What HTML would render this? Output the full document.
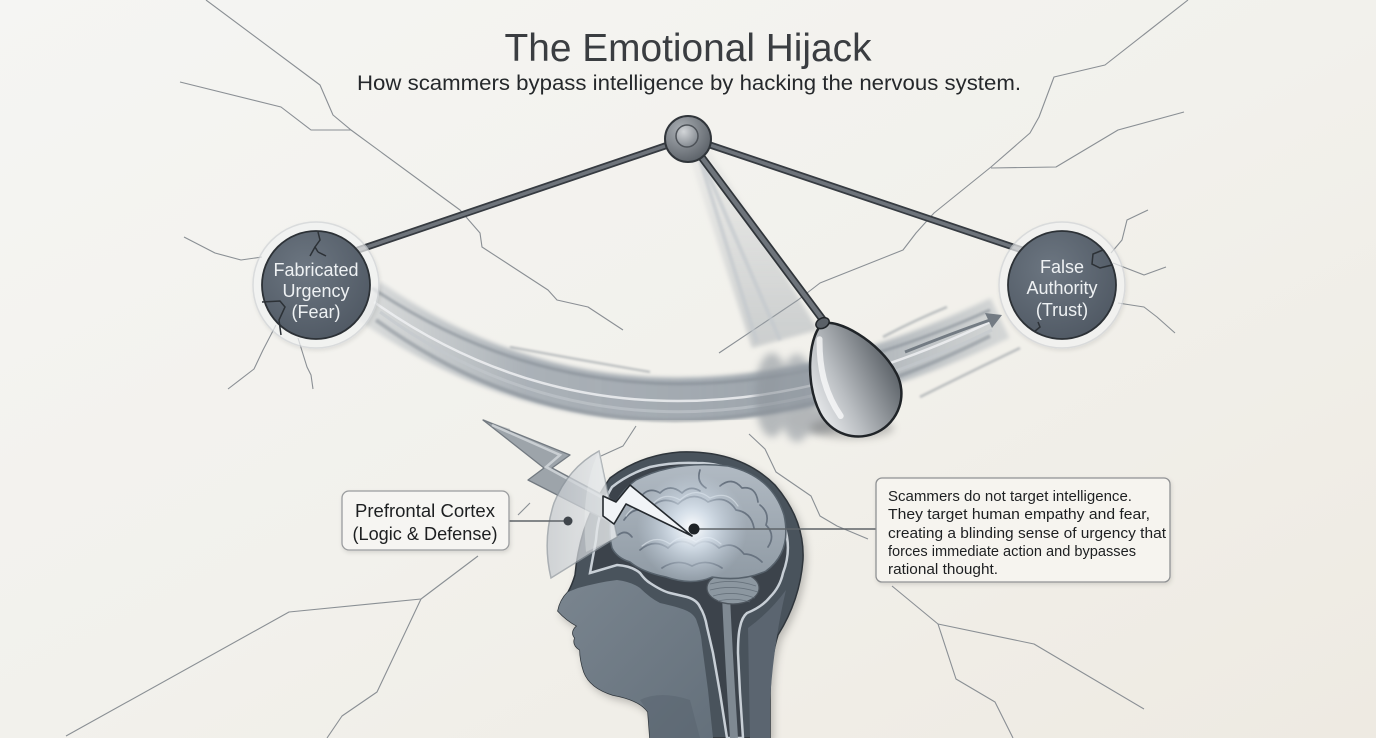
<!DOCTYPE html>
<html><head><meta charset="utf-8">
<style>
html,body{margin:0;padding:0;width:1376px;height:738px;overflow:hidden;background:#f2f1ed;}
svg{display:block}
text{font-family:"Liberation Sans",Arial,sans-serif;}
</style></head><body>
<svg width="1376" height="738" viewBox="0 0 1376 738" xmlns="http://www.w3.org/2000/svg">
<defs>
 <linearGradient id="bg" x1="0" y1="0" x2="1" y2="1">
  <stop offset="0" stop-color="#f5f5f3"/>
  <stop offset="0.5" stop-color="#f2f1ec"/>
  <stop offset="1" stop-color="#eeeae2"/>
 </linearGradient>
 <radialGradient id="node" cx="0.4" cy="0.35" r="0.75">
  <stop offset="0" stop-color="#6c7681"/>
  <stop offset="1" stop-color="#4e5762"/>
 </radialGradient>
 <radialGradient id="pivotG" cx="0.35" cy="0.3" r="0.8">
  <stop offset="0" stop-color="#a9aeb3"/>
  <stop offset="1" stop-color="#565c63"/>
 </radialGradient>
 <radialGradient id="pivotIn" cx="0.35" cy="0.3" r="0.8">
  <stop offset="0" stop-color="#d2d5d8"/>
  <stop offset="1" stop-color="#7d838a"/>
 </radialGradient>
 <linearGradient id="bobG" x1="0" y1="0" x2="1" y2="0">
  <stop offset="0" stop-color="#e4e6e8"/>
  <stop offset="0.35" stop-color="#b9bdc1"/>
  <stop offset="1" stop-color="#5f656b"/>
 </linearGradient>
 <linearGradient id="bandG" gradientUnits="userSpaceOnUse" x1="368" y1="0" x2="1000" y2="0">
  <stop offset="0" stop-color="#a6aeb5" stop-opacity="0.35"/>
  <stop offset="0.25" stop-color="#9ea6ae" stop-opacity="0.85"/>
  <stop offset="0.7" stop-color="#98a0a8" stop-opacity="0.95"/>
  <stop offset="1" stop-color="#a6aeb5" stop-opacity="0.4"/>
 </linearGradient>
 <linearGradient id="ghostG" gradientUnits="userSpaceOnUse" x1="0" y1="160" x2="0" y2="420">
  <stop offset="0" stop-color="#a3aab1" stop-opacity="0.1"/>
  <stop offset="0.6" stop-color="#9da4ab" stop-opacity="0.4"/>
  <stop offset="1" stop-color="#8f979e" stop-opacity="0.5"/>
 </linearGradient>
 <radialGradient id="glow" cx="0.5" cy="0.5" r="0.5">
  <stop offset="0" stop-color="#ffffff" stop-opacity="1"/>
  <stop offset="0.35" stop-color="#e3edf7" stop-opacity="0.75"/>
  <stop offset="1" stop-color="#c9d7e6" stop-opacity="0"/>
 </radialGradient>
 <linearGradient id="faceG" x1="0" y1="0" x2="1" y2="1">
  <stop offset="0" stop-color="#7a858f"/>
  <stop offset="1" stop-color="#64707b"/>
 </linearGradient>
 <linearGradient id="brainG" x1="0" y1="0" x2="0" y2="1">
  <stop offset="0" stop-color="#b1bac3"/>
  <stop offset="1" stop-color="#8f9aa4"/>
 </linearGradient>
 <linearGradient id="shieldG" x1="0" y1="0" x2="1" y2="0">
  <stop offset="0" stop-color="#c3c8cd"/>
  <stop offset="1" stop-color="#e6e9ec"/>
 </linearGradient>
 <filter id="blur1"><feGaussianBlur stdDeviation="1"/></filter>
 <filter id="blur2" x="-20%" y="-20%" width="140%" height="140%"><feGaussianBlur stdDeviation="2"/></filter>
 <filter id="blur4" x="-50%" y="-50%" width="200%" height="200%"><feGaussianBlur stdDeviation="4"/></filter>
 <filter id="shadow" x="-20%" y="-20%" width="150%" height="150%"><feDropShadow dx="3" dy="4" stdDeviation="4" flood-color="#000" flood-opacity="0.22"/></filter>
 <filter id="bshadow" x="-10%" y="-10%" width="130%" height="130%"><feDropShadow dx="1" dy="2" stdDeviation="2" flood-color="#000" flood-opacity="0.12"/></filter>
</defs>

<rect x="0" y="0" width="1376" height="738" fill="url(#bg)"/>

<!-- cracks -->
<g fill="none" stroke="#8a8f94" stroke-width="1.1" stroke-linejoin="round">
 <polyline points="206,0 320,85 333,115 351,130 460,210 480,233 482,247 548,290 557,300 588,307 623,330"/>
 <polyline points="180,82 281,107 311,130 351,130"/>
 <polyline points="184,237 215,253 241,260 262,257"/>
 <polyline points="276,325 263,350 254,369 228,389"/>
 <polyline points="298,338 307,367 311,375 313,389"/>
 <polyline points="1188,0 1105,65 1054,77 1039,117 1030,133 991,167 934,213 916,233 903,250 820,283 798,300 719,353"/>
 <polyline points="1184,112 1118,130 1056,167 991,168"/>
 <polyline points="1148,210 1127,220 1122,240 1111,253"/>
 <polyline points="1166,267 1144,275 1113,263"/>
 <polyline points="1175,333 1157,317 1144,307 1118,303"/>
 <polyline points="66,736 289,612 421,599 478,556"/>
 <polyline points="421,599 377,692 342,716 327,738"/>
 <polyline points="636,426 623,446 601,456"/>
 <polyline points="749,434 765,449 776,472 811,496 820,516 837,526 868,539"/>
 <polyline points="892,586 938,624 1034,644 1144,709"/>
 <polyline points="938,624 956,679 995,702 1013,738"/>
 <polyline points="518,515 530,503"/>
</g>

<!-- title -->
<text x="688" y="61" text-anchor="middle" font-size="39" fill="#3a3d41" textLength="367" lengthAdjust="spacingAndGlyphs">The Emotional Hijack</text>
<text x="689" y="90" text-anchor="middle" font-size="21" fill="#25282b" textLength="664" lengthAdjust="spacingAndGlyphs">How scammers bypass intelligence by hacking the nervous system.</text>

<!-- swoosh band -->
<g fill="none">
 <path d="M368 300 Q 640 490 1000 318" stroke="url(#bandG)" stroke-width="44" filter="url(#blur2)"/>
 <path d="M372 288 Q 640 468 990 310" stroke="#858d95" stroke-width="3" opacity="0.6" filter="url(#blur1)"/>
 <path d="M376 320 Q 640 512 990 336" stroke="#858d95" stroke-width="4" opacity="0.55" filter="url(#blur1)"/>
 <path d="M374 302 Q 640 490 992 321" stroke="#eef0f2" stroke-width="2.5" opacity="0.85"/>
 <path d="M380 312 Q 640 502 992 330" stroke="#c3c8cd" stroke-width="3" opacity="0.6"/>
 <path d="M510 347 Q 580 360 650 372" stroke="#7f878f" stroke-width="2" opacity="0.55" filter="url(#blur1)"/>
 <path d="M483 420 Q 495 425 510 430" stroke="#8a9299" stroke-width="2" opacity="0.5"/>
 <path d="M883 337 Q 915 320 947 307" stroke="#8a9299" stroke-width="2.5" opacity="0.55" filter="url(#blur1)"/>
 <path d="M920 397 Q 970 372 1020 348" stroke="#8a9299" stroke-width="2.5" opacity="0.55" filter="url(#blur1)"/>
 <path d="M905 352 Q 950 334 990 320" stroke="#737b83" stroke-width="3"/>
</g>
<polygon points="1002,315 985,313 992,328" fill="#737b83"/>

<!-- ghost pendulum trails -->
<polygon points="690,158 710,150 818,330 752,348" fill="url(#ghostG)" filter="url(#blur2)"/>
<g filter="url(#blur4)" opacity="0.6">
 <ellipse cx="772" cy="395" rx="17" ry="42" fill="#8e959c"/>
 <ellipse cx="797" cy="398" rx="18" ry="44" fill="#939aa1"/>
 <ellipse cx="815" cy="420" rx="30" ry="14" fill="#8a9198"/>
</g>
<g stroke="#c4c9ce" stroke-width="4" opacity="0.7" filter="url(#blur1)">
 <line x1="700" y1="160" x2="757" y2="342"/>
 <line x1="702" y1="160" x2="780" y2="340"/>
</g>

<!-- rods -->
<g stroke-linecap="round">
 <line x1="668" y1="145" x2="358" y2="250" stroke="#363b41" stroke-width="7"/>
 <line x1="668" y1="145" x2="358" y2="250" stroke="#6e747b" stroke-width="3.5"/>
 <line x1="710" y1="145" x2="1022" y2="250" stroke="#363b41" stroke-width="7"/>
 <line x1="710" y1="145" x2="1022" y2="250" stroke="#6e747b" stroke-width="3.5"/>
 <line x1="700" y1="155" x2="823" y2="320" stroke="#30353a" stroke-width="8"/>
 <line x1="700" y1="155" x2="823" y2="320" stroke="#6e747b" stroke-width="4.5"/>
</g>

<!-- pivot -->
<circle cx="688" cy="139" r="23" fill="url(#pivotG)" stroke="#30353a" stroke-width="2"/>
<circle cx="687" cy="136" r="11" fill="url(#pivotIn)" stroke="#4d5258" stroke-width="1.5"/>

<!-- bob -->
<ellipse cx="852" cy="428" rx="42" ry="11" fill="#666" opacity="0.35" filter="url(#blur4)"/>
<g transform="translate(823,324) rotate(-27)">
 <path d="M0,0 C 14,0 43,40 43,78 A 43 43 0 0 1 -43 78 C -43 40 -14 0 0 0 Z" fill="url(#bobG)" stroke="#202428" stroke-width="2.5"/>
 <path d="M-10,12 C -22,35 -30,60 -26,90" stroke="#ffffff" stroke-width="6" fill="none" opacity="0.7" stroke-linecap="round"/>
 <ellipse cx="0" cy="-1" rx="7" ry="5" fill="#5a6067" stroke="#202428" stroke-width="1.5"/>
</g>

<!-- left node -->
<circle cx="316" cy="285" r="63" fill="#f1f2f2" opacity="0.7" stroke="#cfd2d5" stroke-width="1.5" filter="url(#bshadow)"/>
<circle cx="316" cy="285" r="54" fill="url(#node)" stroke="#2c3136" stroke-width="1.8"/>
<g fill="none" stroke="#2c3136" stroke-width="1.5">
 <polyline points="318,232 320,240 315,247 318,252"/>
 <polyline points="315,247 310,256"/>
 <polyline points="318,252 326,256"/>
 <polyline points="262,302 280,301 285,307 279,320 281,335"/>
</g>
<g font-size="18" fill="#eef1f3" text-anchor="middle">
 <text x="316" y="276">Fabricated</text>
 <text x="316" y="297">Urgency</text>
 <text x="316" y="318">(Fear)</text>
</g>

<!-- right node -->
<circle cx="1062" cy="285" r="63" fill="#f1f2f2" opacity="0.7" stroke="#cfd2d5" stroke-width="1.5" filter="url(#bshadow)"/>
<circle cx="1062" cy="285" r="54" fill="url(#node)" stroke="#2c3136" stroke-width="1.8"/>
<g fill="none" stroke="#2c3136" stroke-width="1.5">
 <polyline points="1103,250 1093,254 1092,264 1100,268 1112,265"/>
 <polyline points="1034,332 1040,327 1038,322"/>
</g>
<g font-size="18" fill="#eef1f3" text-anchor="middle">
 <text x="1062" y="273">False</text>
 <text x="1062" y="294">Authority</text>
 <text x="1062" y="316">(Trust)</text>
</g>

<!-- head -->
<g filter="url(#shadow)">
 <path d="M 650 738 L 648 712 Q 640 700 613 695 Q 590 688 584 672 Q 580 660 580 650 Q 572 645 575 638 Q 570 632 577 626 Q 566 620 558 611 Q 560 600 568 592 Q 572 585 575 575 Q 580 520 610 478 Q 640 455 680 452 Q 740 450 775 485 Q 805 520 803 560 Q 800 600 778 635 Q 770 660 770 700 L 770 738 Z" fill="#4a525b" stroke="#2f353b" stroke-width="1.5"/>
</g>
<!-- back of neck -->
<path d="M 748 628 Q 770 612 786 590 Q 774 640 770 700 L 770 738 L 750 738 Z" fill="#5b6570"/>
<!-- face -->
<path d="M 578 588 Q 600 582 617 580 Q 632 582 640 588 Q 650 598 660 603 Q 678 607 685 610 Q 695 614 697 622 Q 701 632 702 645 L 708 690 L 713 738 L 650 738 L 648 712 Q 640 700 613 695 Q 590 688 584 672 Q 580 660 580 650 Q 572 645 575 638 Q 570 632 577 626 Q 566 620 558 611 Q 560 600 568 592 Z" fill="url(#faceG)"/>
<path d="M 640 700 Q 660 690 690 700 L 700 738 L 650 738 L 648 712 Z" fill="#56616c" opacity="0.45"/>
<!-- cavity -->
<path d="M 590 573 L 617 565 Q 632 566 640 573 Q 645 580 650 583 Q 662 591 670 593 L 687 597 Q 697 600 700 607 Q 705 615 707 627 L 713 653 L 720 693 L 727 738 L 743 738 L 740 693 L 738 653 Q 738 635 740 627 Q 742 617 747 613 Q 762 607 770 597 Q 780 587 783 573 Q 790 555 787 537 Q 783 515 773 500 Q 760 482 740 473 Q 720 463 697 463 Q 672 462 650 467 Q 628 474 612 487 Q 598 510 596 540 Z" fill="#3c434b" stroke="#c8cfd6" stroke-width="2.5"/>
<!-- spinal cord -->
<path d="M 726 596 Q 728 640 731 690 L 734 738" stroke="#7f8992" stroke-width="8" fill="none"/>
<!-- cerebellum -->
<ellipse cx="733" cy="588" rx="26" ry="16" fill="#8c97a0" stroke="#4d555d" stroke-width="1.2"/>
<g stroke="#5f6a74" stroke-width="0.8" fill="none" opacity="0.8">
 <path d="M710 584 Q733 578 756 586"/>
 <path d="M710 590 Q733 584 758 592"/>
 <path d="M713 596 Q733 590 755 598"/>
 <path d="M718 601 Q735 597 750 602"/>
</g>
<!-- brain -->
<path d="M 612 548 Q 602 505 636 480 Q 675 460 728 466 Q 772 476 784 515 Q 792 552 766 571 Q 742 582 712 577 Q 692 586 666 577 Q 642 572 630 562 Q 617 558 612 548 Z" fill="url(#brainG)" stroke="#56616b" stroke-width="1.5"/>
<g fill="none" stroke="#687380" stroke-width="1.7" stroke-linecap="round">
 <path d="M624 520 q10 -15 24 -8 q12 -18 30 -8 q15 -14 30 -2 q18 -8 28 8 q15 2 18 18"/>
 <path d="M640 550 q14 -12 28 -2 q12 -12 26 -2 q12 -10 25 2 q14 -8 25 6 q10 0 18 8"/>
 <path d="M640 498 q8 -12 20 -5 q10 -10 22 0 q8 -8 18 -2"/>
 <path d="M720 486 q12 -10 22 2 q14 -2 16 14"/>
 <path d="M662 568 q15 -10 30 -2 q15 -8 30 2"/>
 <path d="M760 505 q10 8 6 20 q10 10 2 22"/>
 <path d="M618 535 q8 -6 14 2"/>
 <path d="M700 470 q-4 12 6 18"/>
</g>
<g fill="none" stroke="#d1d8de" stroke-width="1.2" stroke-linecap="round" opacity="0.8">
 <path d="M626 516 q10 -15 24 -8 q12 -18 30 -8 q15 -14 30 -2 q18 -8 28 8"/>
 <path d="M642 546 q14 -12 28 -2 q12 -12 26 -2 q12 -10 25 2"/>
</g>
<circle cx="692" cy="528" r="55" fill="url(#glow)"/>

<!-- lightning bolt -->
<polygon points="483,420 570,455 552,468 616,502 630,485 692,536 626,504 614,524 528,480 544,468" fill="#9da4aa" stroke="#737a81" stroke-width="1.3" stroke-linejoin="round"/>
<polyline points="492,425 560,455 546,467 612,503" fill="none" stroke="#d6dadd" stroke-width="2.5" opacity="0.8"/>

<!-- shield -->
<path d="M 599 451 L 617 537 L 551 578 Q 542 540 554 503 Q 568 468 599 451 Z" fill="url(#shieldG)" opacity="0.72" stroke="#8f979e" stroke-width="1.5"/>
<path d="M 599 451 Q 580 490 586 552 L 617 537 Z" fill="#eef0f2" opacity="0.35"/>

<!-- inner white bolt -->
<polygon points="603,496 616,502 630,485 692,536 626,504 614,524 603,516" fill="#f1f4f7" stroke="#24292e" stroke-width="1.6" stroke-linejoin="round"/>

<!-- connectors -->
<line x1="509" y1="521" x2="568" y2="521" stroke="#5f6469" stroke-width="1.4"/>
<circle cx="568" cy="521" r="4.5" fill="#3f454b"/>
<line x1="694" y1="529" x2="876" y2="529" stroke="#5f6469" stroke-width="1.4"/>
<circle cx="694" cy="529" r="5.5" fill="#1f2327"/>

<!-- prefrontal box -->
<rect x="342" y="491" width="167" height="59" rx="7" fill="#f6f5f2" stroke="#9a9c9e" stroke-width="1.3" filter="url(#bshadow)"/>
<g font-size="18" fill="#1d1f21" text-anchor="middle">
 <text x="425" y="517" textLength="140" lengthAdjust="spacingAndGlyphs">Prefrontal Cortex</text>
 <text x="425" y="540" textLength="145" lengthAdjust="spacingAndGlyphs">(Logic &amp; Defense)</text>
</g>

<!-- right info box -->
<rect x="876" y="478" width="294" height="104" rx="6" fill="#f6f4ef" stroke="#8f9193" stroke-width="1.3" filter="url(#bshadow)"/>
<g font-size="15" fill="#1d1f21">
 <text x="888" y="501" textLength="244" lengthAdjust="spacingAndGlyphs">Scammers do not target intelligence.</text>
 <text x="888" y="519" textLength="262" lengthAdjust="spacingAndGlyphs">They target human empathy and fear,</text>
 <text x="888" y="538" textLength="278" lengthAdjust="spacingAndGlyphs">creating a blinding sense of urgency that</text>
 <text x="888" y="556" textLength="248" lengthAdjust="spacingAndGlyphs">forces immediate action and bypasses</text>
 <text x="888" y="574" textLength="110" lengthAdjust="spacingAndGlyphs">rational thought.</text>
</g>
</svg>
</body></html>
